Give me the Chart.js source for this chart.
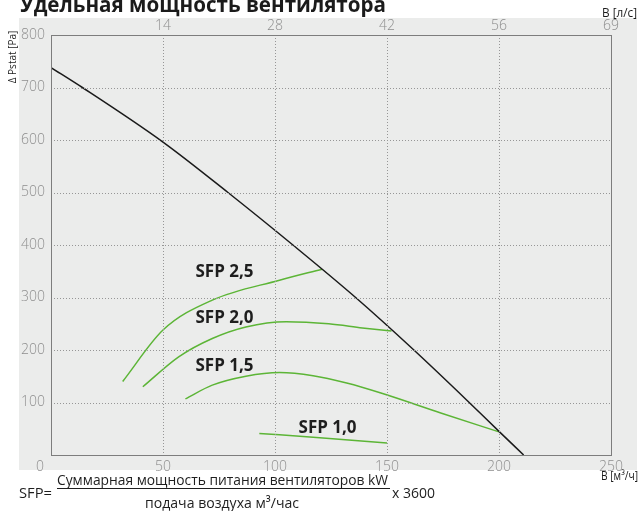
<!DOCTYPE html>
<html>
<head>
<meta charset="utf-8">
<script src="https://cdn.jsdelivr.net/npm/chart.js@4.4.1/dist/chart.umd.min.js"></script>
<style>
    html, body { margin: 0; padding: 0; background: #fff; }
    #wrap { width: 640px; height: 511px; }
</style>
</head>
<body>
<div id="wrap"><canvas id="chart" width="640" height="511"></canvas></div>
<script>
// fan curve, air flow in m3/h vs static pressure in Pa
const fanFlow = [0, 14, 50, 79, 108, 136, 162, 186, 200, 211];
const fanPressure = [738, 700, 596, 500, 400, 300, 200, 103, 45, 0];

// SFP lines
const sfp25Flow = [32, 50, 72, 102, 121];
const sfp25Pressure = [140, 238, 295, 333, 354];
const sfp20Flow = [41, 57, 72, 87, 105, 124, 139, 152];
const sfp20Pressure = [130, 187, 222, 244, 254, 250, 242, 236];
const sfp15Flow = [60, 72, 87, 102, 117, 132, 148, 174, 200];
const sfp15Pressure = [107, 133, 150, 157, 151, 137, 117, 80, 44];
const sfp10Flow = [93, 120, 150];
const sfp10Pressure = [41, 33, 23];

const sfpLabels = ['SFP 2,5', 'SFP 2,0', 'SFP 1,5', 'SFP 1,0'];
const sfpLabelFlow = [64.5, 64.5, 64.5, 110.5];
const sfpLabelPressure = [349, 261, 170, 51];

// axis ticks
const flowTicks = [0, 50, 100, 150, 200, 250];
const litreTicks = ['', '14', '28', '42', '56', '69'];
const pressureTicks = [0, 100, 200, 300, 400, 500, 600, 700, 800];

const GREEN = '#5cb536';
const TICK_COLOR = '#8e8e8e';

const toPoints = (xs, ys) => xs.map((x, i) => ({ x, y: ys[i] }));

const curve = (label, xs, ys, color) => ({
    label,
    data: toPoints(xs, ys),
    borderColor: color,
    borderWidth: 1.5,
    pointRadius: 0,
    fill: false,
    cubicInterpolationMode: 'monotone',
});

// dotted grid on the inner ticks, placed through the chart scales
const drawGrid = (ctx, a, scales) => {
    const top = Math.round(a.top);
    const bottom = Math.round(a.bottom);
    const left = Math.round(a.left);
    const right = Math.round(a.right);
    ctx.save();
    ctx.fillStyle = '#969696';
    flowTicks.slice(1, -1).forEach((v) => {
        const px = Math.round(scales.x.getPixelForValue(v));
        for (let y = top + 3; y < bottom; y += 3) {
            ctx.fillRect(px, y, 1, 1);
        }
    });
    pressureTicks.slice(1, -1).forEach((v) => {
        const py = Math.round(scales.y.getPixelForValue(v));
        for (let x = left + 3; x < right; x += 3) {
            ctx.fillRect(x, py, 1, 1);
        }
    });
    ctx.restore();
};

const decor = {
    id: 'decor',
    beforeDraw(chart) {
        const { ctx } = chart;
        ctx.save();
        ctx.fillStyle = '#ffffff';
        ctx.fillRect(0, 0, chart.width, chart.height);
        ctx.fillStyle = '#ebeceb';
        ctx.fillRect(19, 18, 618, 452);
        ctx.restore();
    },
    afterDraw(chart) {
        const { ctx, chartArea: a, scales } = chart;
        drawGrid(ctx, a, scales);

        ctx.save();

        // plot frame
        ctx.strokeStyle = '#7d7d7d';
        ctx.lineWidth = 1;
        ctx.setLineDash([]);
        ctx.strokeRect(Math.round(a.left) + 0.5, Math.round(a.top) + 0.5,
            Math.round(a.right - a.left), Math.round(a.bottom - a.top));

        // origin label
        ctx.fillStyle = TICK_COLOR;
        ctx.font = '300 14px "Open Sans"';
        ctx.textAlign = 'center';
        ctx.textBaseline = 'middle';
        ctx.fillText('0', 40, 467);

        // title
        ctx.fillStyle = '#1b1b1b';
        ctx.font = 'bold 22px "Open Sans"';
        ctx.textAlign = 'left';
        ctx.textBaseline = 'alphabetic';
        ctx.fillText('Удельная мощность вентилятора', 20, 11.5, 366);

        // units
        ctx.font = '12px "Open Sans"';
        ctx.textAlign = 'right';
        ctx.textBaseline = 'middle';
        ctx.fillText('B [л/с]', 637, 14, 35);
        ctx.fillText('B [м³/ч]', 638, 477, 37);

        // y title
        ctx.save();
        ctx.translate(13, 57);
        ctx.rotate(-Math.PI / 2);
        ctx.font = '10px "Open Sans"';
        ctx.textAlign = 'center';
        ctx.fillText('Δ Pstat [Pa]', 0, 0, 56);
        ctx.restore();

        // SFP labels
        ctx.font = 'bold 17px "Open Sans"';
        ctx.textAlign = 'left';
        ctx.textBaseline = 'middle';
        ctx.fillStyle = '#1e1e1e';
        sfpLabels.forEach((text, i) => {
            ctx.fillText(text, scales.x.getPixelForValue(sfpLabelFlow[i]),
                scales.y.getPixelForValue(sfpLabelPressure[i]));
        });

        // formula
        ctx.fillStyle = '#1e1e1e';
        ctx.font = '15px "Open Sans"';
        ctx.fillText('SFP=', 19, 494, 33);
        ctx.fillText('Суммарная мощность питания вентиляторов kW', 57, 481, 331);
        ctx.fillText('x 3600', 392, 494, 43);
        ctx.textAlign = 'center';
        ctx.fillText('подача воздуха м³/час', 222, 504, 154);
        ctx.strokeStyle = '#1e1e1e';
        ctx.lineWidth = 1;
        ctx.beginPath();
        ctx.moveTo(57, 488.5);
        ctx.lineTo(390, 488.5);
        ctx.stroke();

        ctx.restore();
    },
};

const tickFont = { family: 'Open Sans', size: 14, weight: '300' };

new Chart(document.getElementById('chart'), {
    type: 'line',
    data: {
        datasets: [
            curve('Fan', fanFlow, fanPressure, '#1a1a1a'),
            curve('SFP 2,5', sfp25Flow, sfp25Pressure, GREEN),
            curve('SFP 2,0', sfp20Flow, sfp20Pressure, GREEN),
            curve('SFP 1,5', sfp15Flow, sfp15Pressure, GREEN),
            curve('SFP 1,0', sfp10Flow, sfp10Pressure, GREEN),
        ],
    },
    options: {
        responsive: false,
        animation: false,
        layout: { padding: { left: 0, right: 29, top: 0, bottom: 0 } },
        plugins: {
            legend: { display: false },
            tooltip: { enabled: false },
        },
        scales: {
            x: {
                type: 'linear',
                position: 'bottom',
                min: 0,
                max: 250,
                afterBuildTicks: (scale) => { scale.ticks = flowTicks.map((value) => ({ value })); },
                afterFit: (scale) => { scale.height = 56; },
                ticks: {
                    padding: 4,
                    maxRotation: 0,
                    color: TICK_COLOR,
                    font: tickFont,
                    callback: (value) => (value === 0 ? '' : value),
                },
                grid: { display: false, drawTicks: false },
                border: { display: false },
            },
            x2: {
                type: 'linear',
                position: 'top',
                min: 0,
                max: 250,
                afterBuildTicks: (scale) => { scale.ticks = flowTicks.map((value) => ({ value })); },
                afterFit: (scale) => { scale.height = 35; },
                ticks: {
                    padding: 1,
                    maxRotation: 0,
                    color: TICK_COLOR,
                    font: tickFont,
                    callback: (value, index) => litreTicks[index],
                },
                grid: { display: false, drawTicks: false },
                border: { display: false },
            },
            y: {
                type: 'linear',
                min: 0,
                max: 800,
                afterBuildTicks: (scale) => { scale.ticks = pressureTicks.map((value) => ({ value })); },
                afterFit: (scale) => { scale.width = 51; },
                ticks: {
                    padding: 6,
                    color: TICK_COLOR,
                    font: tickFont,
                    callback: (value) => (value === 0 ? '' : value),
                },
                grid: { display: false, drawTicks: false },
                border: { display: false },
            },
        },
    },
    plugins: [decor],
});
</script>
</body>
</html>
